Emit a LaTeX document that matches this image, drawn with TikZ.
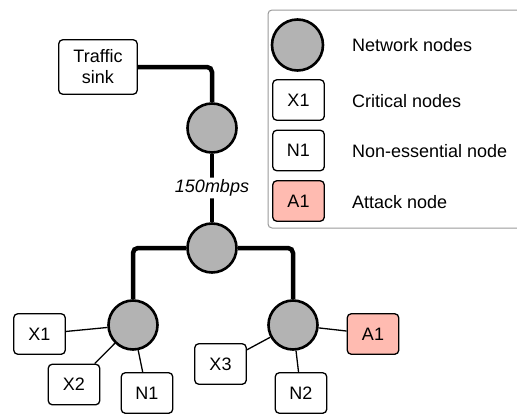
\documentclass[tikz,border=0pt]{standalone}
\usepackage{fontspec}
\setmainfont{Liberation Sans}
\definecolor{netgray}{HTML}{B3B3B3}
\definecolor{attackred}{HTML}{FFBBB1}
\definecolor{framegray}{HTML}{999999}
\begin{document}
\begin{tikzpicture}[x=1pt,y=-1pt,
  netnode/.style={circle, draw, line width=2.6pt, fill=netgray, minimum size=49pt, inner sep=0pt},
  boxnode/.style={draw, rounded corners=4pt, line width=1.3pt, fill=white, minimum width=51.5pt, minimum height=40.5pt, inner sep=0pt, font=\fontsize{18}{21}\selectfont, align=center},
  attacknode/.style={boxnode, fill=attackred},
  trunk/.style={line width=4.5pt, rounded corners=5pt},
  branch/.style={line width=1.3pt},
  legtext/.style={anchor=west, inner sep=0pt, font=\fontsize{18}{21}\selectfont}]
\useasboundingbox (0,0) rectangle (517,415);
% legend frame
\draw[framegray, line width=1pt, rounded corners=4pt] (268,10) rectangle (530,228);
% tree nodes
\node[boxnode, minimum width=78.5pt, minimum height=54.5pt] (sink) at (98,67) {Traffic\\sink};
\node[netnode] (c1) at (212,128) {};
\node[netnode] (c2) at (212,248) {};
\node[netnode] (cL) at (133,325) {};
\node[netnode] (cR) at (293,325) {};
\node[boxnode] (x1) at (39.5,334) {X1};
\node[boxnode] (x2) at (74,384.5) {X2};
\node[boxnode] (n1) at (147,393) {N1};
\node[boxnode] (x3) at (220.5,364) {X3};
\node[boxnode] (n2) at (301,393) {N2};
\node[attacknode] (a1) at (373,334) {A1};
% trunk connectors
\draw[trunk] (sink.east) -| (c1.north);
\draw[trunk] (c1.south) -- node[fill=white, inner sep=2pt, font=\fontsize{18}{21}\selectfont\itshape] (bw) {150mbps} (c2.north);
\draw[trunk] (c2.west) -| (cL.north);
\draw[trunk] (c2.east) -| (cR.north);
% branch connectors
\draw[branch] (cL) -- (x1);
\draw[branch] (cL) -- (x2);
\draw[branch] (cL) -- (n1);
\draw[branch] (cR) -- (x3);
\draw[branch] (cR) -- (n2);
\draw[branch] (cR) -- (a1);
% legend
\node[netnode, minimum size=51pt] (lc) at (297.5,45) {};
\node[boxnode] (lx) at (298.5,100) {X1};
\node[boxnode] (ln) at (298.5,150.5) {N1};
\node[attacknode] (la) at (298.5,201) {A1};
\node[legtext] (tc) at (352,45) {Network nodes};
\node[legtext] (tx) at (352,101) {Critical nodes};
\node[legtext] (tn) at (352,151) {Non-essential node};
\node[legtext] (ta) at (352,202) {Attack node};
\end{tikzpicture}
\end{document}
